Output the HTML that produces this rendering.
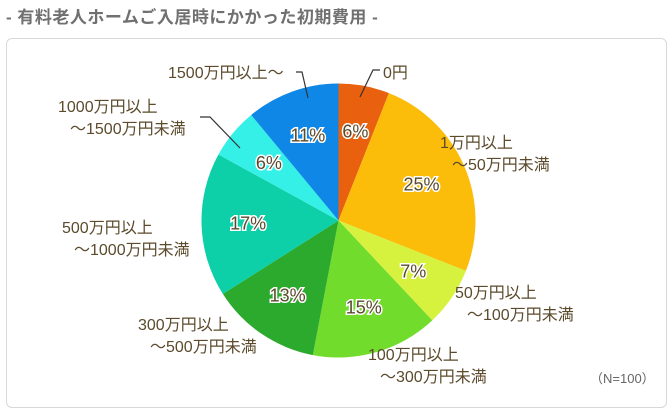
<!DOCTYPE html>
<html><head><meta charset="utf-8"><style>
body{margin:0;width:672px;height:413px;background:#fff;font-family:"Liberation Sans","Noto Sans CJK JP",sans-serif;overflow:hidden}
#title{position:absolute;left:6px;top:3px;font-size:17px;font-weight:bold;color:#707070;letter-spacing:0.5px}
#box{position:absolute;left:6px;top:38px;width:659px;height:368px;border:1px solid #d8d8d8;border-radius:6px}
svg{position:absolute;left:0;top:0}
</style></head><body>
<div id="title">- 有料老人ホームご入居時にかかった初期費用 -</div>
<div id="box"></div>
<svg id="chart" width="672" height="413"></svg>
<script>
const categories=["0円","1万円以上\n～50万円未満","50万円以上\n～100万円未満","100万円以上\n～300万円未満","300万円以上\n～500万円未満","500万円以上\n～1000万円未満","1000万円以上\n～1500万円未満","1500万円以上～"];
const values=[6,25,7,15,13,17,6,11];
const colors=["#e9600e","#fbbd0a","#d6f23e","#72dc2c","#2caa2e","#0dcfa8","#34f0e6","#0f87e6"];
const labelPos=[[383,78],[440,148],[455,298],[368,360],[138,330],[62,233],[58,112],[168,78]];
const leaders=[[[360,97],[373,70],[380,70]],null,null,null,null,null,[[240,148],[210,117],[200,117]],[[308,98],[302,72],[296,72]]];
const cx=338.5,cy=220.5,R=137;
const svg=document.getElementById('chart');
const NS='http://www.w3.org/2000/svg';
const total=values.reduce((a,b)=>a+b,0);
function pt(a,r){return [cx+r*Math.sin(a),cy-r*Math.cos(a)];}
let acc=0;
values.forEach((v,i)=>{
  const a0=acc/total*2*Math.PI;acc+=v;const a1=acc/total*2*Math.PI;
  const p0=pt(a0,R),p1=pt(a1,R);
  const path=document.createElementNS(NS,'path');
  path.setAttribute('d',`M${cx},${cy}L${p0[0]},${p0[1]}A${R},${R} 0 ${a1-a0>Math.PI?1:0} 1 ${p1[0]},${p1[1]}Z`);
  path.setAttribute('fill',colors[i]);
  
  
  svg.appendChild(path);
});
acc=0;
values.forEach((v,i)=>{
  const am=(acc+v/2)/total*2*Math.PI;acc+=v;
  const p=pt(am,R*0.66);
  const t=document.createElementNS(NS,'text');
  t.setAttribute('x',p[0]);t.setAttribute('y',p[1]+6);
  t.setAttribute('text-anchor','middle');
  t.setAttribute('font-size','18');
  t.setAttribute('fill','#5a4a2c');
  t.setAttribute('stroke','#fff');t.setAttribute('stroke-width','3');t.setAttribute('paint-order','stroke');
  t.textContent=v+'%';
  
  
  svg.appendChild(t);
});
categories.forEach((c,i)=>{
  const lines=c.split('\n');
  lines.forEach((ln,j)=>{
    const t=document.createElementNS(NS,'text');
    t.setAttribute('x',labelPos[i][0]+(j?12:0));t.setAttribute('y',labelPos[i][1]+j*22);
    t.setAttribute('font-size','16');t.setAttribute('fill','#5b4a2c');
    t.textContent=ln;
    
    
    svg.appendChild(t);
  });
  if(leaders[i]){
    const pl=document.createElementNS(NS,'polyline');
    pl.setAttribute('points',leaders[i].map(p=>p.join(',')).join(' '));
    pl.setAttribute('fill','none');pl.setAttribute('stroke','#333');pl.setAttribute('stroke-width','1.2');
    
    
    svg.appendChild(pl);
  }
});
const n=document.createElementNS(NS,'text');
n.setAttribute('x',590);n.setAttribute('y',383);n.setAttribute('font-size','13');n.setAttribute('fill','#666');
n.textContent='（N=100）';


svg.appendChild(n);
</script>
</body></html>
